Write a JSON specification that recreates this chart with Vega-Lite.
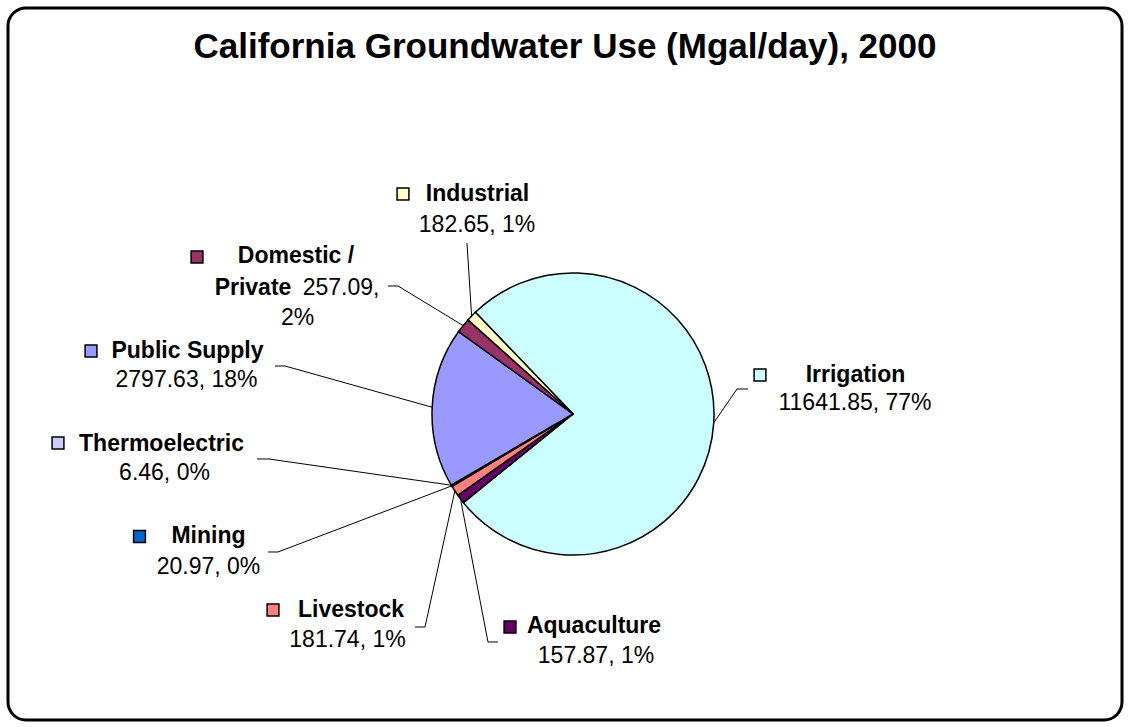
{
  "$schema": "https://vega.github.io/schema/vega-lite/v6.json",
  "width": 1114,
  "height": 712,
  "autosize": {"type": "none"},
  "padding": {"left": 8, "top": 8, "right": 8, "bottom": 7},
  "background": "white",
  "config": {
    "view": {"stroke": "black", "strokeWidth": 3, "cornerRadius": 18},
    "font": "Liberation Sans"
  },
  "title": {
    "text": "California Groundwater Use (Mgal/day), 2000",
    "font": "Liberation Sans",
    "fontSize": 35,
    "fontWeight": "bold",
    "color": "black",
    "anchor": "middle",
    "baseline": "alphabetic",
    "offset": -85
  },
  "datasets": {
    "uses": [
      {"category": "Irrigation", "value": 11641.85},
      {"category": "Aquaculture", "value": 157.87},
      {"category": "Livestock", "value": 181.74},
      {"category": "Mining", "value": 20.97},
      {"category": "Thermoelectric", "value": 6.46},
      {"category": "Public Supply", "value": 2797.63},
      {"category": "Domestic / Private", "value": 257.09},
      {"category": "Industrial", "value": 182.65}
    ],
    "labels": [
      {"category": "Industrial", "kx": -120.57, "ky": 156.03, "bx": -75.18, "by": 121.28, "tx": -75.18},
      {"category": "Domestic / Private", "kx": -266.67, "ky": 111.35, "bx": -124.11, "by": 90.78, "tx": -131.21},
      {"category": "Public Supply", "kx": -341.84, "ky": 44.68, "bx": -204.26, "by": 34.04, "tx": -211.35},
      {"category": "Thermoelectric", "kx": -365.25, "ky": -20.57, "bx": -215.6, "by": -31.91, "tx": -224.11},
      {"category": "Mining", "kx": -307.45, "ky": -86.88, "bx": -209.22, "by": -97.87, "tx": -216.31},
      {"category": "Livestock", "kx": -212.77, "ky": -139.01, "bx": -104.96, "by": -151.06, "tx": -112.06},
      {"category": "Aquaculture", "kx": -44.68, "ky": -151.06, "bx": -60.28, "by": -161.7, "tx": -53.19},
      {"category": "Irrigation", "kx": 132.62, "ky": 27.66, "bx": 116.31, "by": 17.73, "tx": 124.11}
    ],
    "boldText": [
      {"t": "Industrial", "x": -67.73, "y": 151.06},
      {"t": "Domestic /", "x": -196.45, "y": 107.09},
      {"t": "Private", "x": -226.95, "y": 84.4},
      {"t": "Public Supply", "x": -273.4, "y": 39.72},
      {"t": "Thermoelectric", "x": -291.84, "y": -26.24},
      {"t": "Mining", "x": -258.51, "y": -91.49},
      {"t": "Livestock", "x": -157.45, "y": -143.97},
      {"t": "Aquaculture", "x": 14.89, "y": -155.32},
      {"t": "Irrigation", "x": 200.35, "y": 22.7}
    ],
    "plainText": [
      {"t": "182.65, 1%", "x": -68.09, "y": 129.08},
      {"t": "257.09,", "x": -164.54, "y": 84.4},
      {"t": "2%", "x": -195.39, "y": 63.12},
      {"t": "2797.63, 18%", "x": -274.11, "y": 19.15},
      {"t": "6.46, 0%", "x": -289.72, "y": -46.81},
      {"t": "20.97, 0%", "x": -258.51, "y": -113.48},
      {"t": "181.74, 1%", "x": -159.93, "y": -165.25},
      {"t": "157.87, 1%", "x": 16.31, "y": -176.6},
      {"t": "11641.85, 77%", "x": 200.0, "y": 2.84}
    ]
  },
  "layer": [
    {
      "data": {"name": "uses"},
      "transform": [
        {"window": [{"op": "row_number", "as": "rank"}]}
      ],
      "mark": {"type": "arc", "outerRadius": 141, "stroke": "black", "strokeWidth": 1.5},
      "encoding": {
        "x": {"datum": 0, "type": "quantitative", "scale": {"domain": [-400.71, 389.36], "nice": false, "zero": false}, "axis": null},
        "y": {"datum": 0, "type": "quantitative", "scale": {"domain": [-217.02, 287.94], "nice": false, "zero": false}, "axis": null},
        "theta": {"field": "value", "type": "quantitative", "stack": true, "scale": {"range": [-0.765, 5.5182]}},
        "order": {"field": "rank", "type": "quantitative"},
        "color": {
          "field": "category",
          "type": "nominal",
          "scale": {
            "domain": ["Irrigation", "Aquaculture", "Livestock", "Mining", "Thermoelectric", "Public Supply", "Domestic / Private", "Industrial"],
            "range": ["#CCFFFF", "#660066", "#FF8080", "#0066CC", "#CCCCFF", "#9999FF", "#993366", "#FFFFCC"]
          },
          "legend": null
        }
      }
    },
    {
      "data": {"name": "uses"},
      "transform": [
        {"window": [{"op": "row_number", "as": "rank"}]},
        {"joinaggregate": [{"op": "sum", "field": "value", "as": "total"}]},
        {"window": [{"op": "sum", "field": "value", "as": "cum"}], "sort": [{"field": "rank"}], "frame": [null, 0]},
        {"calculate": "-0.765 + 2 * PI * (datum.cum - datum.value / 2) / datum.total", "as": "ang"},
        {"calculate": "100 * sin(datum.ang)", "as": "ex"},
        {"calculate": "100 * cos(datum.ang)", "as": "ey"},
        {"lookup": "category", "from": {"data": {"name": "labels"}, "key": "category", "fields": ["bx", "by"]}}
      ],
      "mark": {"type": "rule", "color": "black", "strokeWidth": 1},
      "encoding": {
        "x": {"field": "bx", "type": "quantitative", "axis": null},
        "y": {"field": "by", "type": "quantitative", "axis": null},
        "x2": {"field": "ex"},
        "y2": {"field": "ey"}
      }
    },
    {
      "data": {"name": "labels"},
      "mark": {"type": "rule", "color": "black", "strokeWidth": 1},
      "encoding": {
        "x": {"field": "tx", "type": "quantitative", "axis": null},
        "x2": {"field": "bx"},
        "y": {"field": "by", "type": "quantitative", "axis": null}
      }
    },
    {
      "data": {"name": "labels"},
      "mark": {"type": "point", "shape": "square", "filled": true, "size": 140, "stroke": "black", "strokeWidth": 1.5, "opacity": 1},
      "encoding": {
        "x": {"field": "kx", "type": "quantitative", "axis": null},
        "y": {"field": "ky", "type": "quantitative", "axis": null},
        "color": {"field": "category", "type": "nominal", "legend": null}
      }
    },
    {
      "data": {"name": "boldText"},
      "mark": {"type": "text", "font": "Liberation Sans", "fontSize": 23, "fontWeight": "bold", "align": "center", "baseline": "alphabetic", "color": "black"},
      "encoding": {
        "x": {"field": "x", "type": "quantitative", "axis": null},
        "y": {"field": "y", "type": "quantitative", "axis": null},
        "text": {"field": "t"}
      }
    },
    {
      "data": {"name": "plainText"},
      "mark": {"type": "text", "font": "Liberation Sans", "fontSize": 23, "align": "center", "baseline": "alphabetic", "color": "black"},
      "encoding": {
        "x": {"field": "x", "type": "quantitative", "axis": null},
        "y": {"field": "y", "type": "quantitative", "axis": null},
        "text": {"field": "t"}
      }
    }
  ]
}
